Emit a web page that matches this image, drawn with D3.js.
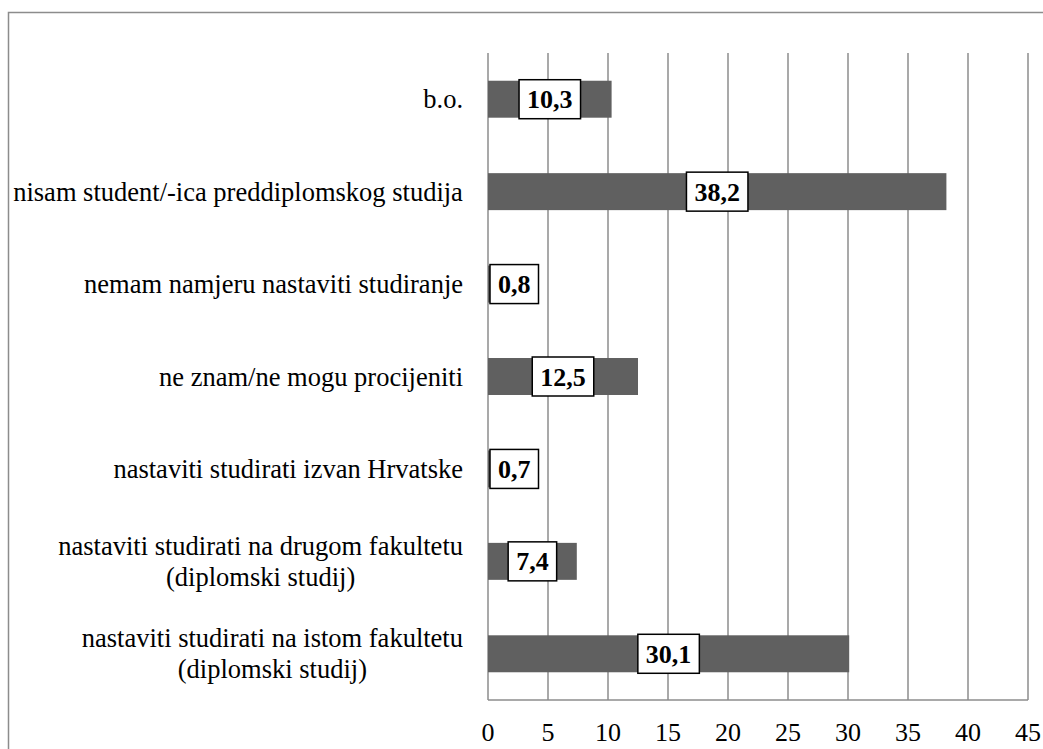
<!DOCTYPE html>
<meta charset="utf-8">
<style>
body { margin: 0; background: #fff; }
.grid line { stroke: #8c8c8c; stroke-width: 1.5px; }
.bars rect { fill: #606060; }
</style>
<svg width="1043" height="749"></svg>
<script src="https://d3js.org/d3.v7.min.js"></script>
<script>

// categories, top to bottom (each entry is a list of text lines)
var categories = [
  ["b.o."],
  ["nisam student/-ica preddiplomskog studija"],
  ["nemam namjeru nastaviti studiranje"],
  ["ne znam/ne mogu procijeniti"],
  ["nastaviti studirati izvan Hrvatske"],
  ["nastaviti studirati na drugom fakultetu", "(diplomski studij)"],
  ["nastaviti studirati na istom fakultetu", "(diplomski studij)"]
];
var values = [10.3, 38.2, 0.8, 12.5, 0.7, 7.4, 30.1];
var tickValues = [0, 5, 10, 15, 20, 25, 30, 35, 40, 45];

var svg = d3.select("svg");
var serif = "'Liberation Serif', Tinos, 'Times New Roman', Times, serif";

var plotLeft = 488, plotRight = 1028, plotTop = 53, plotBottom = 700;

var x = d3.scaleLinear().domain([0, 45]).range([plotLeft, plotRight]);
var y = d3.scaleBand().domain(d3.range(categories.length)).range([plotTop, plotBottom]).paddingInner(0.6).paddingOuter(0.3);

// outer chart border
svg.append("rect")
    .attr("x", 8.5).attr("y", 12.5)
    .attr("width", 1040).attr("height", 745)
    .attr("fill", "none")
    .attr("stroke", "#8c8c8c")
    .attr("stroke-width", 1.5);

// vertical gridlines
svg.append("g")
    .attr("class", "grid")
  .selectAll("line")
  .data(tickValues)
  .enter().append("line")
    .attr("x1", function(d) { return x(d); })
    .attr("x2", function(d) { return x(d); })
    .attr("y1", plotTop)
    .attr("y2", plotBottom);

// bottom axis line
svg.append("line")
    .attr("x1", plotLeft).attr("x2", plotRight)
    .attr("y1", plotBottom).attr("y2", plotBottom)
    .attr("stroke", "#8c8c8c").attr("stroke-width", 1.5);

// bars
svg.append("g")
    .attr("class", "bars")
  .selectAll("rect")
  .data(values)
  .enter().append("rect")
    .attr("x", x(0))
    .attr("y", function(d, i) { return y(i); })
    .attr("width", function(d) { return x(d) - x(0); })
    .attr("height", y.bandwidth());

// tick labels
svg.append("g")
  .selectAll("text")
  .data(tickValues)
  .enter().append("text")
    .attr("x", function(d) { return x(d); })
    .attr("y", 741)
    .attr("text-anchor", "middle")
    .style("font-family", serif)
    .style("font-size", "26px")
    .text(function(d) { return d; });

// category labels (right edge at 463, lines centred on each other)
var lineH = 31;
var catG = svg.append("g")
  .selectAll("g")
  .data(categories)
  .enter().append("g");

catG.each(function(lines, i) {
  var g = d3.select(this);
  var cy = y(i) + y.bandwidth() / 2;
  var t = g.append("text")
      .attr("text-anchor", "middle")
      .style("font-family", serif)
      .style("font-size", "26.5px");
  lines.forEach(function(s, k) {
    t.append("tspan")
        .attr("x", 0)
        .attr("y", cy + (k - (lines.length - 1) / 2) * lineH + 9)
        .text(s);
  });
  var w = t.node().getBBox().width;
  t.attr("transform", "translate(" + (463 - w / 2) + ",0)");
});

// value labels in boxes
var lab = svg.append("g")
  .selectAll("g")
  .data(values)
  .enter().append("g");

lab.each(function(d, i) {
  var g = d3.select(this);
  var cy = y(i) + y.bandwidth() / 2;
  var txt = d3.format(".1f")(d).replace(".", ",");
  var t = g.append("text")
      .attr("text-anchor", "middle")
      .style("font-family", serif)
      .style("font-size", "26px")
      .style("font-weight", "bold")
      .attr("y", cy + 9)
      .text(txt);
  var w = t.node().getBBox().width + 16;
  var h = 39;
  var cx = (x(0) + x(d)) / 2;
  var bx = Math.max(cx - w / 2, plotLeft + 2);
  t.attr("x", bx + w / 2);
  g.insert("rect", "text")
      .attr("x", bx).attr("y", cy - h / 2)
      .attr("width", w).attr("height", h)
      .attr("fill", "#fff")
      .attr("stroke", "#000")
      .attr("stroke-width", 1.5);
});

</script>
